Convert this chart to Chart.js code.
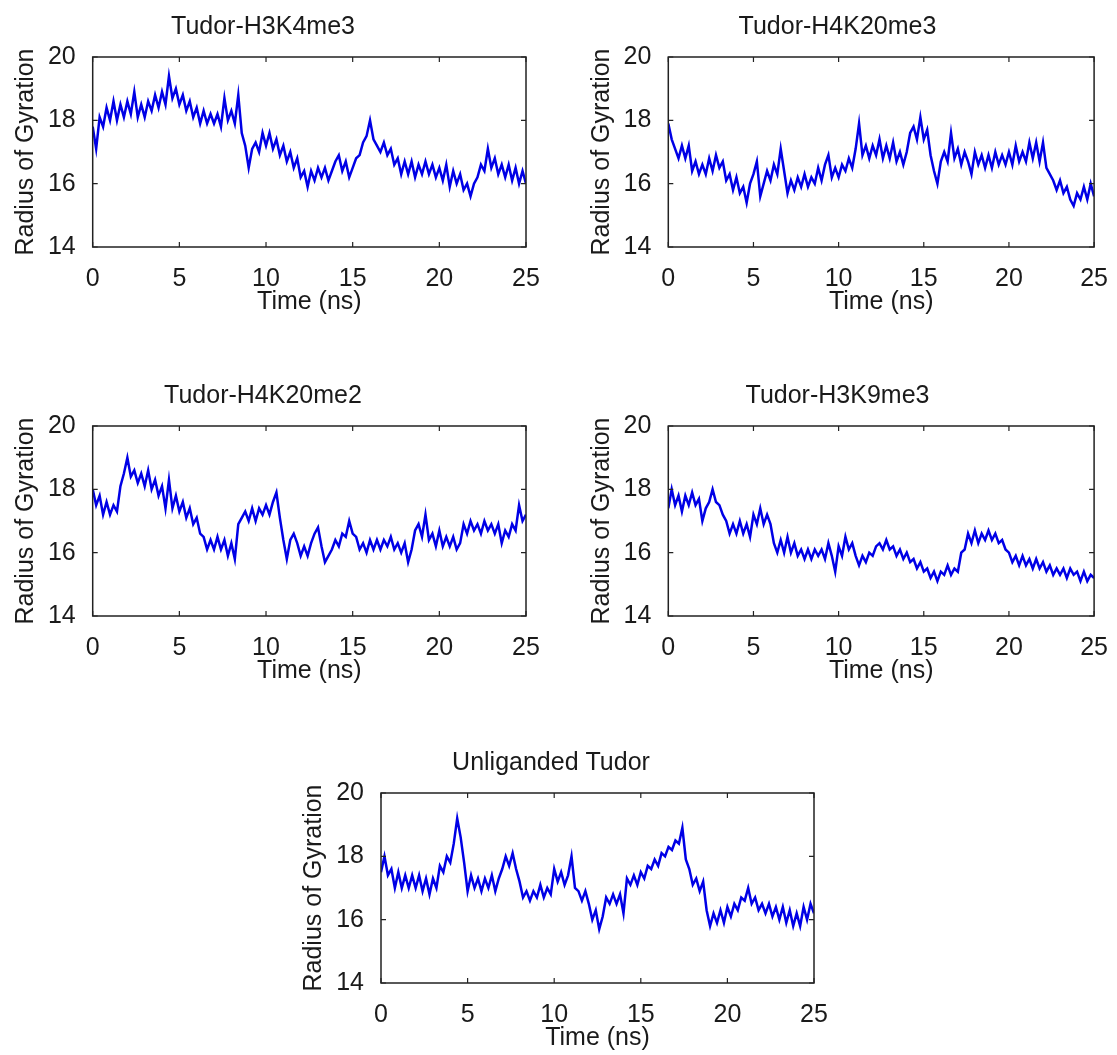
<!DOCTYPE html>
<html>
<head>
<meta charset="utf-8">
<title>Radius of Gyration</title>
<script src="https://cdn.jsdelivr.net/npm/chart.js@4.4.1/dist/chart.umd.min.js"></script>
<style>
  html, body { margin: 0; padding: 0; background: #fff; overflow: hidden; }
  #page { position: relative; width: 1117px; height: 1055px; }
  canvas { position: absolute; }
</style>
</head>
<body>
<div id="page">
  <canvas id="chartH3K4me3" width="560" height="330" style="left:0px;top:0px"></canvas>
  <canvas id="chartH4K20me3" width="541" height="330" style="left:576px;top:0px"></canvas>
  <canvas id="chartH4K20me2" width="560" height="330" style="left:0px;top:369px"></canvas>
  <canvas id="chartH3K9me3" width="541" height="330" style="left:576px;top:369px"></canvas>
  <canvas id="chartUnliganded" width="560" height="330" style="left:288px;top:736px"></canvas>
</div>
<script>
// sampled every 0.2 ns, 0 -> 25 ns
const dt = 0.2;

const xTicks = [0, 5, 10, 15, 20, 25];
const yTicks = [14, 16, 18, 20];

const rgH3K4me3 = [
  17.8, 17.1, 18.1, 17.8, 18.4,
  18.0, 18.6, 18.0, 18.5, 18.1,
  18.6, 18.2, 18.9, 18.1, 18.5,
  18.1, 18.6, 18.3, 18.8, 18.4,
  18.9, 18.5, 19.4, 18.7, 19.0,
  18.5, 18.8, 18.3, 18.6, 18.1,
  18.4, 17.9, 18.3, 17.9, 18.2,
  17.9, 18.2, 17.8, 18.7, 18.0,
  18.3, 17.9, 18.8, 17.6, 17.2,
  16.5, 17.1, 17.3, 17.0, 17.6,
  17.2, 17.6, 17.1, 17.4, 16.9,
  17.2, 16.7, 17.0, 16.5, 16.8,
  16.2, 16.4, 15.9, 16.4, 16.1,
  16.5, 16.2, 16.5, 16.1, 16.4,
  16.7, 16.9, 16.4, 16.7, 16.2,
  16.5, 16.8, 16.9, 17.3, 17.5,
  18.0, 17.4, 17.2, 17.0, 17.3,
  16.9, 17.1, 16.6, 16.8, 16.3,
  16.7, 16.3, 16.7, 16.2, 16.6,
  16.3, 16.7, 16.3, 16.6, 16.2,
  16.5, 16.1, 16.6, 15.9, 16.4,
  16.0, 16.3, 15.8, 16.0, 15.6,
  16.0, 16.2, 16.6, 16.4, 17.1,
  16.5, 16.8, 16.3, 16.6, 16.2,
  16.6, 16.1, 16.5, 16.0, 16.4,
  16.0
];

const rgH4K20me3 = [
  17.9, 17.4, 17.1, 16.8, 17.2,
  16.8, 17.2, 16.4, 16.7, 16.3,
  16.6, 16.3, 16.8, 16.4, 16.9,
  16.5, 16.7, 16.1, 16.3, 15.8,
  16.2, 15.7, 15.9, 15.4, 16.0,
  16.3, 16.7, 15.6, 16.0, 16.4,
  16.1, 16.6, 16.3, 17.1, 16.4,
  15.7, 16.1, 15.8, 16.2, 15.9,
  16.3, 15.9, 16.2, 16.0, 16.5,
  16.1, 16.6, 16.9, 16.2, 16.5,
  16.2, 16.6, 16.4, 16.8, 16.5,
  17.1, 17.9, 16.9, 17.2, 16.8,
  17.2, 16.9, 17.4, 16.8, 17.2,
  16.8, 17.3, 16.7, 17.0, 16.6,
  17.0, 17.6, 17.8, 17.4, 18.1,
  17.4, 17.7, 16.9, 16.4, 16.0,
  16.7, 17.0, 16.7, 17.6, 16.8,
  17.1, 16.6, 17.0, 16.7, 16.3,
  17.0, 16.6, 16.9, 16.5, 16.9,
  16.5, 17.0, 16.6, 16.9, 16.6,
  17.0, 16.6, 17.2, 16.7, 17.0,
  16.7, 17.3, 16.8, 17.3, 16.7,
  17.3, 16.5, 16.3, 16.1, 15.8,
  16.1, 15.7, 15.9, 15.5, 15.3,
  15.7, 15.5, 15.9, 15.5, 16.0,
  15.6
];

const rgH4K20me2 = [
  18.0, 17.5, 17.8, 17.2, 17.6,
  17.2, 17.5, 17.3, 18.1, 18.5,
  19.0, 18.4, 18.6, 18.2, 18.5,
  18.1, 18.6, 18.0, 18.3, 17.8,
  18.1, 17.4, 18.3, 17.4, 17.8,
  17.3, 17.6, 17.1, 17.4, 16.9,
  17.1, 16.6, 16.5, 16.1, 16.4,
  16.1, 16.5, 16.1, 16.4, 15.9,
  16.3, 15.8, 16.9, 17.1, 17.3,
  17.0, 17.4, 17.0, 17.4, 17.2,
  17.5, 17.2, 17.6, 17.9, 17.1,
  16.4, 15.8, 16.4, 16.6, 16.3,
  15.9, 16.2, 15.9, 16.3, 16.6,
  16.8, 16.2, 15.7, 15.9, 16.1,
  16.4, 16.2, 16.6, 16.5, 17.0,
  16.6, 16.5, 16.1, 16.3, 16.0,
  16.4, 16.1, 16.4, 16.1, 16.4,
  16.2, 16.5, 16.1, 16.3, 16.0,
  16.3, 15.7, 16.1, 16.7, 16.9,
  16.5, 17.2, 16.4, 16.6, 16.2,
  16.7, 16.2, 16.5, 16.2, 16.5,
  16.1, 16.3, 16.9, 16.6, 17.0,
  16.7, 16.9, 16.6, 17.0, 16.7,
  16.9, 16.6, 16.9, 16.3, 16.7,
  16.5, 16.9, 16.7, 17.5, 17.0,
  17.2
];

const rgH3K9me3 = [
  17.4, 18.0, 17.5, 17.8, 17.3,
  17.8, 17.5, 17.9, 17.5, 17.7,
  17.0, 17.4, 17.6, 18.0, 17.6,
  17.5, 17.2, 17.0, 16.6, 16.9,
  16.6, 17.0, 16.6, 16.9, 16.5,
  17.2, 16.9, 17.4, 16.9, 17.2,
  16.9, 16.3, 16.0, 16.4, 16.0,
  16.5, 16.0, 16.3, 15.9, 16.1,
  15.8, 16.1, 15.8, 16.1, 15.9,
  16.1, 15.8, 16.3, 15.9, 15.4,
  16.2, 15.9, 16.5, 16.1, 16.3,
  15.9, 15.6, 15.9, 15.7, 16.0,
  15.9, 16.2, 16.3, 16.1, 16.4,
  16.1, 16.2, 15.9, 16.1, 15.8,
  16.0, 15.7, 15.8, 15.5, 15.7,
  15.4, 15.5, 15.2, 15.4, 15.1,
  15.4, 15.3, 15.6, 15.3, 15.5,
  15.4, 16.0, 16.1, 16.6, 16.3,
  16.7, 16.3, 16.6, 16.4, 16.7,
  16.4, 16.6, 16.3, 16.4, 16.1,
  16.0, 15.7, 15.9, 15.6, 15.9,
  15.6, 15.8, 15.5, 15.8, 15.5,
  15.7, 15.4, 15.6, 15.3, 15.5,
  15.3, 15.5, 15.2, 15.5, 15.3,
  15.4, 15.1, 15.4, 15.1, 15.3,
  15.2
];

const rgUnliganded = [
  17.5, 18.0, 17.4, 17.6, 17.0,
  17.5, 17.0, 17.4, 17.0, 17.4,
  17.0, 17.4, 16.9, 17.3, 16.8,
  17.3, 17.0, 17.7, 17.5, 18.0,
  17.8, 18.4, 19.2, 18.6, 17.8,
  16.9, 17.4, 17.0, 17.3, 16.9,
  17.3, 17.0, 17.4, 16.9, 17.3,
  17.6, 18.0, 17.7, 18.1, 17.6,
  17.2, 16.7, 16.9, 16.6, 16.9,
  16.7, 17.1, 16.7, 17.0, 16.8,
  17.6, 17.2, 17.5, 17.1, 17.4,
  18.0, 17.0, 16.9, 16.6, 16.9,
  16.5, 16.0, 16.3, 15.7, 16.1,
  16.7, 16.5, 16.8, 16.5, 16.8,
  16.2, 17.3, 17.1, 17.4, 17.1,
  17.5, 17.3, 17.7, 17.6, 17.9,
  17.7, 18.1, 18.0, 18.3, 18.2,
  18.5, 18.4, 18.9, 17.9, 17.6,
  17.1, 17.3, 16.9, 17.2, 16.3,
  15.8, 16.2, 15.9, 16.3, 15.9,
  16.4, 16.1, 16.5, 16.3, 16.7,
  16.6, 17.0, 16.5, 16.7, 16.3,
  16.5, 16.2, 16.5, 16.1, 16.4,
  16.0, 16.4, 15.9, 16.3, 15.8,
  16.2, 15.8, 16.4, 16.0, 16.5,
  16.2
];

const textFont = "'Liberation Sans', Arial, sans-serif";
const textColor = "#1a1a1a";
const lineColor = "#0000e6";

// matlab style axes box with inward ticks
const boxPlugin = {
  id: "boxPlugin",
  afterDraw(chart) {
    const { ctx, chartArea: a, scales } = chart;
    const len = 5;
    ctx.save();
    ctx.strokeStyle = "#222";
    ctx.lineWidth = 1.5;
    ctx.strokeRect(a.left, a.top, a.right - a.left, a.bottom - a.top);
    ctx.lineWidth = 1.2;
    ctx.beginPath();
    xTicks.forEach((t) => {
      const px = scales.x.getPixelForValue(t);
      ctx.moveTo(px, a.bottom);
      ctx.lineTo(px, a.bottom - len);
      ctx.moveTo(px, a.top);
      ctx.lineTo(px, a.top + len);
    });
    yTicks.forEach((t) => {
      const py = scales.y.getPixelForValue(t);
      ctx.moveTo(a.left, py);
      ctx.lineTo(a.left + len, py);
      ctx.moveTo(a.right, py);
      ctx.lineTo(a.right - len, py);
    });
    ctx.stroke();
    ctx.restore();
  },
};

const makeChart = (canvasId, title, values, yWidth, rightPad) => {
  const points = values.map((v, i) => ({ x: i * dt, y: v }));
  return new Chart(document.getElementById(canvasId), {
    type: "line",
    data: {
      datasets: [
        {
          data: points,
          borderColor: lineColor,
          borderWidth: 2.5,
          pointRadius: 0,
          tension: 0,
          fill: false,
        },
      ],
    },
    options: {
      responsive: false,
      animation: false,
      devicePixelRatio: 1,
      layout: { padding: { left: 0, right: rightPad, top: 0, bottom: 0 } },
      plugins: {
        legend: { display: false },
        tooltip: { enabled: false },
        title: {
          display: true,
          text: title,
          color: textColor,
          font: { family: textFont, size: 25, weight: "normal", lineHeight: 1.2 },
          padding: { top: 12, bottom: 15 },
        },
      },
      scales: {
        x: {
          type: "linear",
          min: 0,
          max: 25,
          grid: { display: false },
          border: { display: false },
          afterFit: (scale) => {
            scale.height = 83;
          },
          afterBuildTicks: (scale) => {
            scale.ticks = xTicks.map((v) => ({ value: v }));
          },
          ticks: {
            color: textColor,
            padding: 9,
            maxRotation: 0,
            autoSkip: false,
            font: { family: textFont, size: 25, lineHeight: 1.2 },
          },
          title: {
            display: true,
            text: "Time (ns)",
            color: textColor,
            font: { family: textFont, size: 25, lineHeight: 1.2 },
            padding: { top: 0, bottom: 13 },
          },
        },
        y: {
          min: 14,
          max: 20,
          grid: { display: false },
          border: { display: false },
          afterFit: (scale) => {
            scale.width = yWidth;
          },
          afterBuildTicks: (scale) => {
            scale.ticks = yTicks.map((v) => ({ value: v }));
          },
          ticks: {
            color: textColor,
            padding: 9,
            font: { family: textFont, size: 25, lineHeight: 1.2 },
          },
          title: {
            display: true,
            text: "Radius of Gyration",
            color: textColor,
            font: { family: textFont, size: 25, lineHeight: 1.2 },
            padding: { top: 11, bottom: 0 },
          },
        },
      },
    },
    plugins: [boxPlugin],
  });
};

makeChart("chartH3K4me3", "Tudor-H3K4me3", rgH3K4me3, 92.7, 34);
makeChart("chartH4K20me3", "Tudor-H4K20me3", rgH4K20me3, 92.3, 18);
makeChart("chartH4K20me2", "Tudor-H4K20me2", rgH4K20me2, 92.7, 34);
makeChart("chartH3K9me3", "Tudor-H3K9me3", rgH3K9me3, 92.3, 18);
makeChart("chartUnliganded", "Unliganded Tudor", rgUnliganded, 93, 34);
</script>
</body>
</html>
